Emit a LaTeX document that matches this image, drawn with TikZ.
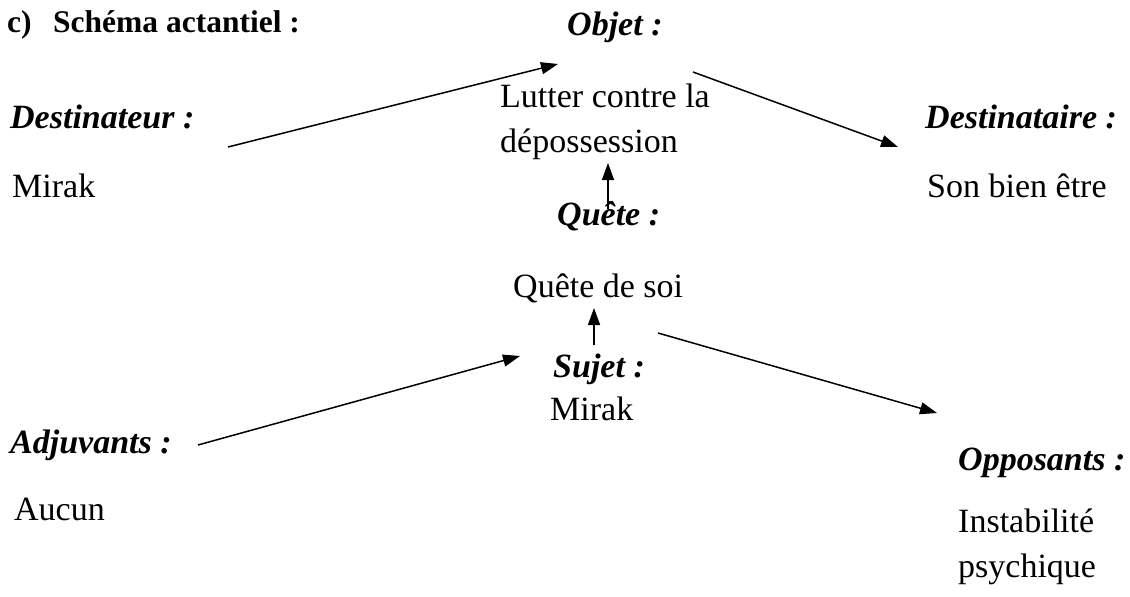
\documentclass[tikz,border=0pt]{standalone}
\usepackage{fontspec}
\setmainfont{Liberation Serif}
\usetikzlibrary{arrows.meta}
\tikzset{
  txt/.style={anchor=base west, inner sep=0pt, font=\fontsize{34}{40}\selectfont},
  lbl/.style={txt, font=\fontsize{34}{40}\selectfont\bfseries\itshape},
  head/.style={anchor=base west, inner sep=0pt, font=\fontsize{31.5}{38}\selectfont\bfseries},
  link/.style={line width=1.5pt, -{Triangle[length=17pt,width=12pt]}}
}
\begin{document}
\begin{tikzpicture}[x=1pt,y=-1pt]
\useasboundingbox (0,0) rectangle (1130,597);
% heading
\node[head] (hc) at (7,32) {c)};
\node[head] (hs) at (53,32) {Schéma actantiel :};
% Objet
\node[lbl] (objet) at (567,35) {Objet :};
\node[txt] (lutter1) at (500,107) {Lutter contre la};
\node[txt] (lutter2) at (500,152) {dépossession};
% Destinateur
\node[lbl] (dest) at (10,128) {Destinateur :};
\node[txt] (mirak1) at (12,197) {Mirak};
% Destinataire
\node[lbl] (desta) at (925,128) {Destinataire :};
\node[txt] (bien) at (927,197) {Son bien être};
% Quete
\node[lbl] (quete) at (557,225) {Quête :};
\node[txt] (quetesoi) at (513,297) {Quête de soi};
% Sujet
\node[lbl] (sujet) at (553,377) {Sujet :};
\node[txt] (mirak2) at (550,420) {Mirak};
% Adjuvants
\node[lbl] (adj) at (10,453) {Adjuvants :};
\node[txt] (aucun) at (14,520) {Aucun};
% Opposants
\node[lbl] (opp) at (958,470) {Opposants :};
\node[txt] (instab1) at (958,532) {Instabilité};
\node[txt] (instab2) at (958,577) {psychique};
% connector ends
\coordinate (c1a) at (228,147);
\coordinate (c1b) at (558,64);
\coordinate (c2a) at (693,72);
\coordinate (c2b) at (898,147);
\coordinate (c3a) at (608,209);
\coordinate (c3b) at (608,163);
\coordinate (c4a) at (594,345);
\coordinate (c4b) at (594,308);
\coordinate (c5a) at (198,445);
\coordinate (c5b) at (520,356);
\coordinate (c6a) at (658,333);
\coordinate (c6b) at (937,413);
\draw[link] (c1a) -- (c1b);
\draw[link] (c2a) -- (c2b);
\draw[link] (c3a) -- (c3b);
\draw[link] (c4a) -- (c4b);
\draw[link] (c5a) -- (c5b);
\draw[link] (c6a) -- (c6b);
\end{tikzpicture}
\end{document}
